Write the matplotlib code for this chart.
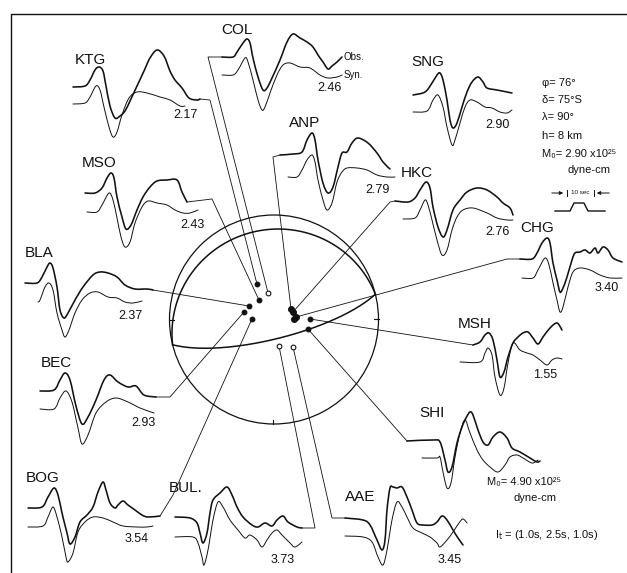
import numpy as np
import matplotlib
matplotlib.use("Agg")
import matplotlib.pyplot as plt
from matplotlib.patches import Circle, PathPatch
from matplotlib.path import Path

plt.rcParams['font.family'] = ['Liberation Sans', 'DejaVu Sans']

# ------------------------------------------------------------------ data
STATIONS = ["KTG", "COL", "SNG", "ANP", "HKC", "CHG", "MSH", "SHI",
            "AAE", "BUL", "BOG", "BEC", "BLA", "MSO"]
STATION_LABELS = ["KTG", "COL", "SNG", "ANP", "HKC", "CHG", "MSH", "SHI",
                  "AAE", "BUL.", "BOG", "BEC", "BLA", "MSO"]
AMPLITUDE_LABELS = ["2.17", "2.46", "2.90", "2.79", "2.76", "3.40", "1.55", "",
                    "3.45", "3.73", "3.54", "2.93", "2.37", "2.43"]
# first-motion polarity: 1 = compression (filled), 0 = dilatation (open)
POLARITY = [1, 0, 1, 1, 1, 1, 1, 1, 0, 0, 1, 1, 1, 1]
# station positions on the focal sphere (equal-area, unit radius)
SPHERE_E = [-0.163, -0.057, 0.191, 0.163, 0.182, 0.211, 0.344, 0.325,
            0.182, 0.048, -0.211, -0.287, -0.239, -0.144]
SPHERE_N = [0.340, 0.254, 0.005, 0.100, 0.072, 0.024, 0.005, -0.091,
            -0.263, -0.254, 0.005, 0.072, 0.129, 0.187]

# focal mechanism
STRIKE = 76
DIP = 75
RAKE = 90
DEPTH_KM = 8
M0 = 2.90
M0_SHI = 4.90
STF = [1.0, 2.5, 1.0]   # rise, top, fall (s)

# waveforms: (time sample, amplitude) pairs, observed and synthetic
KTG_OBS = [(0,0),(12,1),(17,7),(22,17),(26,20),(30,16),(33,1),(37,-19),(42,-31),(47,-29),(52,-24),(57,-14),(64,1),(71,16),(77,29),(84,37),(91,31),(97,16),(102,7),(109,-1),(116,-11),(124,-13),(127,-12)]
KTG_SYN = [(0,0),(12,1),(17,7),(23,18),(27,14),(31,-3),(36,-23),(40,-33),(44,-28),(49,-11),(56,6),(64,12),(74,11),(87,7),(97,4),(107,-2),(112,-2)]
COL_OBS = [(0,0),(11,0),(15,5),(21,14),(25,18),(28,14),(31,-1),(36,-20),(41,-33),(45,-31),(50,-21),(58,-3),(65,15),(71,23),(78,19),(85,15),(91,10),(96,2),(101,-5),(106,-12),(110,-9),(115,-5),(120,0)]
COL_SYN = [(0,0),(11,0),(16,5),(23,17),(26,13),(31,-5),(36,-25),(40,-35),(43,-32),(48,-18),(55,0),(61,10),(68,12),(78,8),(88,7),(98,0),(106,-3),(115,-2),(120,0)]
SNG_OBS = [(0,0),(12,3),(19,12),(24,20),(27,22),(30,15),(34,-5),(37,-25),(40,-33),(44,-28),(49,-12),(54,3),(59,13),(65,18),(70,13),(74,7),(84,5),(99,2)]
SNG_SYN = [(0,0),(14,1),(20,12),(25,17),(30,5),(34,-15),(39,-33),(42,-28),(47,-11),(52,5),(57,12),(64,10),(72,5),(79,4),(87,0),(94,-1),(99,2)]
ANP_OBS = [(0,0),(13,1),(22,3),(27,15),(32,22),(35,15),(38,-5),(43,-28),(48,-38),(53,-32),(58,-12),(62,2),(67,3),(72,12),(78,17),(88,12),(97,2),(103,-7),(110,-14)]
ANP_SYN = [(0,0),(9,0),(14,7),(19,17),(24,22),(27,15),(30,-3),(35,-23),(39,-33),(44,-26),(49,-5),(54,5),(59,9),(69,9),(79,7),(89,2),(99,0),(107,0)]
HKC_OBS = [(0,0),(13,-1),(20,3),(25,11),(31,19),(35,13),(38,-6),(43,-26),(48,-36),(52,-29),(58,-9),(65,1),(72,9),(82,13),(92,11),(102,4),(108,-2),(115,-7),(118,-14)]
HKC_SYN = [(0,0),(12,1),(17,9),(22,19),(25,14),(29,-1),(34,-21),(39,-36),(44,-31),(49,-11),(54,2),(60,9),(70,11),(84,6),(94,1),(104,-1),(110,-1)]
CHG_OBS = [(0,0),(12,0),(17,6),(22,16),(27,21),(30,16),(33,-4),(37,-21),(40,-33),(43,-29),(47,-18),(52,-1),(55,6),(60,7),(65,9),(70,6),(75,11),(78,6),(83,12),(88,9),(93,1),(102,-3)]
CHG_SYN = [(0,0),(11,0),(16,8),(23,20),(27,13),(31,-5),(35,-22),(38,-34),(41,-29),(46,-9),(51,6),(58,10),(68,8),(78,3),(88,0),(100,0)]
MSH_OBS = [(0,0),(7,3),(12,10),(16,12),(20,5),(24,-15),(27,-32),(31,-27),(35,-12),(40,2),(45,8),(50,12),(55,13),(60,7),(65,1),(70,8),(77,17),(84,22),(89,15)]
MSH_SYN = [(0,0),(20,0),(25,9),(28,14),(32,7),(35,-15),(40,-33),(44,-26),(48,-1),(53,19),(60,12),(67,9),(73,7),(80,2),(87,-3),(92,2),(97,4),(102,3)]
SHI_OBS = [(0,0),(26,1),(33,-1),(38,-19),(41,-31),(45,-26),(50,-2),(55,14),(59,23),(63,29),(66,26),(71,11),(76,-1),(81,-4),(86,4),(93,9),(100,3),(105,-7),(113,-11),(123,-17),(130,-21),(133,-20)]
SHI_SYN = [(0,0),(15,0),(18,1),(21,-14),(25,-30),(29,-25),(33,1),(38,25),(43,38),(48,25),(55,8),(61,-2),(68,-9),(76,-14),(83,-7),(88,1),(95,3),(101,0),(110,-5),(116,-2)]
AAE_OBS = [(0,0),(18,-2),(25,-7),(32,-22),(37,-32),(40,-22),(42,8),(45,30),(48,31),(52,30),(57,31),(62,21),(67,8),(72,-5),(78,-7),(87,-7),(92,-4),(97,2),(102,-2),(108,-12),(113,-20),(118,-27)]
AAE_SYN = [(0,0),(18,-1),(27,-6),(33,-21),(38,-29),(42,-14),(47,16),(52,34),(57,29),(62,19),(68,8),(77,3),(85,-1),(92,-7),(95,-11),(102,-4),(108,4),(114,13),(118,17),(122,13)]
BUL_OBS = [(0,0),(15,-1),(22,-6),(25,-16),(28,-26),(32,-16),(35,4),(38,17),(45,24),(52,30),(57,22),(62,10),(68,0),(77,-8),(83,-10),(90,-6),(97,-9),(102,-3),(108,1),(113,-5),(122,-10),(127,-11)]
BUL_SYN = [(0,0),(18,0),(23,-6),(27,-20),(29,-28),(33,-13),(38,17),(43,35),(48,30),(55,17),(63,7),(70,-1),(75,2),(82,-3),(87,-10),(92,-3),(97,4),(102,7),(107,2),(115,-6),(120,-10),(127,-5)]
BOG_OBS = [(0,0),(14,1),(20,11),(26,20),(30,13),(34,-5),(39,-25),(42,-36),(47,-29),(52,-14),(59,-7),(65,1),(70,16),(75,26),(78,18),(82,5),(87,0),(90,3),(95,7),(100,3),(107,-2),(114,-7),(120,-9),(132,-8)]
BOG_SYN = [(0,0),(15,1),(20,10),(25,20),(29,10),(34,-10),(38,-30),(40,-35),(45,-26),(50,-5),(57,5),(65,10),(75,9),(85,5),(95,1),(109,0),(119,0),(125,1)]
BEC_OBS = [(0,0),(14,1),(20,11),(25,18),(30,11),(36,-15),(42,-33),(48,-26),(56,-9),(64,11),(70,16),(78,9),(88,4),(96,5),(104,-4),(116,-6)]
BEC_SYN = [(0,0),(14,0),(20,11),(26,18),(32,7),(38,-19),(42,-35),(48,-26),(56,-4),(66,7),(76,11),(88,7),(100,1),(114,-4)]
BLA_OBS = [(0,0),(12,0),(17,6),(22,16),(25,20),(28,15),(32,-4),(35,-27),(39,-35),(43,-30),(50,-17),(58,-4),(68,8),(75,11),(83,10),(92,6),(100,-2),(110,-6),(122,-6),(128,-7)]
BLA_SYN = [(0,0),(2,2),(7,15),(11,19),(15,12),(19,-11),(24,-28),(27,-35),(31,-28),(37,-11),(44,2),(52,9),(60,10),(70,5),(79,4),(87,0),(95,-1),(104,1)]
MSO_OBS = [(0,0),(10,0),(17,5),(22,15),(26,20),(29,15),(32,-4),(37,-24),(41,-36),(46,-32),(52,-17),(58,-4),(65,6),(72,12),(82,13),(92,13),(97,1),(102,-9)]
MSO_SYN = [(0,0),(10,0),(15,7),(22,19),(26,12),(30,-6),(34,-25),(38,-35),(43,-30),(48,-11),(55,5),(61,11),(70,9),(80,7),(88,2),(96,-1),(103,-1),(111,2)]

WAVES = {
    "KTG": (KTG_OBS, KTG_SYN), "COL": (COL_OBS, COL_SYN), "SNG": (SNG_OBS, SNG_SYN),
    "ANP": (ANP_OBS, ANP_SYN), "HKC": (HKC_OBS, HKC_SYN), "CHG": (CHG_OBS, CHG_SYN),
    "MSH": (MSH_OBS, MSH_SYN), "SHI": (SHI_OBS, SHI_SYN), "AAE": (AAE_OBS, AAE_SYN),
    "BUL": (BUL_OBS, BUL_SYN), "BOG": (BOG_OBS, BOG_SYN), "BEC": (BEC_OBS, BEC_SYN),
    "BLA": (BLA_OBS, BLA_SYN), "MSO": (MSO_OBS, MSO_SYN),
}

# ------------------------------------------------------------------ layout (pixels)
W, H = 627, 573
SPHERE_C = (274, 319.5)
SPHERE_R = 104.5
LAYOUT = {
    # label, obs origin, syn origin, amplitude label, connector (anchor, elbows)
    "KTG": dict(label=(90, 60), obs=(73, 87), syn=(73, 104), amp=(185, 115), conn=("end", [(10, 1)])),
    "COL": dict(label=(237, 30), obs=(222, 57), syn=(222, 75), amp=(330, 88), conn=("start", [(-14, 0)])),
    "SNG": dict(label=(428, 62), obs=(413, 95), syn=(413, 112), amp=(498, 125), conn=None),
    "ANP": dict(label=(305, 123), obs=(280, 155), syn=(288, 177), amp=(377, 190), conn=("start", [(-7, 2)])),
    "HKC": dict(label=(417, 173), obs=(395, 201), syn=(403, 219), amp=(497, 232), conn=("start", [(-5, 1)])),
    "CHG": dict(label=(537, 228), obs=(520, 259), syn=(522, 278), amp=(607, 288), conn=("start", [(-13, 0)])),
    "MSH": dict(label=(475, 324), obs=(473, 345), syn=(460, 362), amp=(545, 375), conn=("start", [])),
    "SHI": dict(label=(432, 413), obs=(407, 441), syn=(422, 458), amp=None, conn=("start", [])),
    "AAE": dict(label=(360, 497), obs=(345, 518), syn=(345, 536), amp=(450, 560), conn=("start", [(-13, 0)])),
    "BUL": dict(label=(186, 488), obs=(175, 517), syn=(175, 537), amp=(283, 560), conn=("end", [(13, 0)])),
    "BOG": dict(label=(43, 478), obs=(28, 508), syn=(28, 527), amp=(137, 539), conn=("end", [(13, -21)])),
    "BEC": dict(label=(56, 363), obs=(40, 391), syn=(40, 409), amp=(143, 423), conn=("end", [(14, 0)])),
    "BLA": dict(label=(39, 253), obs=(25, 283), syn=(38, 302), amp=(130, 316), conn=("end", [])),
    "MSO": dict(label=(99, 163), obs=(85, 193), syn=(87, 212), amp=(192, 225), conn=("end", [(25, -3)])),
}
INK = "#111111"

fig = plt.figure(figsize=(W / 100, H / 100), dpi=100)
ax = fig.add_axes([0, 0, 1, 1])
ax.set_xlim(0, W)
ax.set_ylim(H, 0)
ax.axis("off")

# frame
ax.plot([11, 11, W], [H, 14, 14], color=INK, lw=1.0, solid_capstyle="butt")


def sphere_to_px(e, n):
    return SPHERE_C[0] + SPHERE_R * np.asarray(e), SPHERE_C[1] - SPHERE_R * np.asarray(n)


def nodal_plane(strike, dip, n=241):
    s, d = np.radians(strike), np.radians(dip)
    t = np.linspace(0, np.pi, n)
    sv = np.array([np.cos(s), np.sin(s), 0.0])
    dd = s + np.pi / 2
    dv = np.array([np.cos(dd) * np.cos(d), np.sin(dd) * np.cos(d), np.sin(d)])
    v = np.outer(np.cos(t), sv) + np.outer(np.sin(t), dv)
    N, E, D = v.T
    plunge = np.arcsin(np.clip(D, -1, 1))
    trend = np.arctan2(E, N)
    r = np.sqrt(2) * np.sin((np.pi / 2 - plunge) / 2)
    return r * np.sin(trend), r * np.cos(trend)


# focal sphere
ax.add_patch(Circle(SPHERE_C, SPHERE_R, fill=False, ec=INK, lw=0.9))
for strike, dip in [(STRIKE, DIP), (STRIKE + 180, 90 - DIP)]:
    e, n = nodal_plane(strike, dip)
    x, y = sphere_to_px(e, n)
    ax.plot(x, y, color=INK, lw=1.1)
# small ticks W, E, S
cx, cy = SPHERE_C
ax.plot([cx - SPHERE_R, cx - SPHERE_R + 4], [cy, cy], color=INK, lw=0.8)
ax.plot([cx + SPHERE_R - 5, cx + SPHERE_R], [cy - 1, cy - 1], color=INK, lw=0.8)
ax.plot([cx - 1, cx - 1], [cy + SPHERE_R - 4, cy + SPHERE_R], color=INK, lw=0.8)


def draw_trace(origin, pts, lw):
    """Smooth curve through the keypoints (Catmull-Rom drawn as Bezier path)."""
    P = np.array([(origin[0] + t, origin[1] - a) for t, a in pts], float)
    ext = np.vstack([P[0], P, P[-1]])
    verts = [P[0]]
    codes = [Path.MOVETO]
    for i in range(len(P) - 1):
        p0, p1, p2, p3 = ext[i], ext[i + 1], ext[i + 2], ext[i + 3]
        c1 = p1 + (p2 - p0) / 6.0
        c2 = p2 - (p3 - p1) / 6.0
        verts += [c1, c2, p2]
        codes += [Path.CURVE4] * 3
    ax.add_patch(PathPatch(Path(verts, codes), fill=False, ec=INK, lw=lw,
                           joinstyle="round", capstyle="round"))


for i, st in enumerate(STATIONS):
    L = LAYOUT[st]
    obs, syn = WAVES[st]
    draw_trace(L["obs"], obs, 1.15)
    draw_trace(L["syn"], syn, 0.7)
    ax.text(*L["label"], STATION_LABELS[i], ha="center", va="center",
            fontsize=11, color=INK)
    if L["amp"] is not None and AMPLITUDE_LABELS[i]:
        ax.text(*L["amp"], AMPLITUDE_LABELS[i], ha="center", va="center",
                fontsize=9, color=INK)
    dx, dy = sphere_to_px(SPHERE_E[i], SPHERE_N[i])
    if L["conn"] is not None:
        which, elbows = L["conn"]
        if which == "end":
            ax0 = L["obs"][0] + obs[-1][0]
            ay0 = L["obs"][1] - obs[-1][1]
        else:
            ax0, ay0 = L["obs"]
        xs, ys = [ax0], [ay0]
        for ex, ey in elbows:
            xs.append(ax0 + ex)
            ys.append(ay0 + ey)
        xs.append(float(dx))
        ys.append(float(dy))
        ax.plot(xs, ys, color=INK, lw=0.6)
    big = st in ("ANP", "HKC", "CHG", "SNG")
    ax.plot(dx, dy, "o", ms=4.2 if big else 3.4,
            mfc=INK if POLARITY[i] else "white", mec=INK, mew=0.8, zorder=5)

# Obs./Syn. legend labels at COL
col_o, col_s = LAYOUT["COL"]["obs"], LAYOUT["COL"]["syn"]
ax.text(col_o[0] + COL_OBS[-1][0] + 2, col_o[1] - COL_OBS[-1][1], "Obs.",
        ha="left", va="center", fontsize=7, color=INK)
ax.text(col_s[0] + COL_SYN[-1][0] + 2, col_s[1] - COL_SYN[-1][1], "Syn.",
        ha="left", va="center", fontsize=7, color=INK)

# parameter block
px = 542
ax.text(px, 83, f"\u03c6= {STRIKE}\u00b0", fontsize=8, va="center", color=INK)
ax.text(px, 100, f"\u03b4= {DIP}\u00b0S", fontsize=8, va="center", color=INK)
ax.text(px, 117, f"\u03bb= {RAKE}\u00b0", fontsize=8, va="center", color=INK)
ax.text(px, 136, f"h= {DEPTH_KM} km", fontsize=8, va="center", color=INK)
ax.text(px, 154, f"M\u2080= {M0:.2f} x10\u00b2\u2075", fontsize=8, va="center", color=INK)
ax.text(567, 170, "dyne-cm", fontsize=8, va="center", color=INK)

# 10 sec scale bar
ybar = 193
ax.annotate("", xy=(566, ybar), xytext=(549, ybar),
            arrowprops=dict(arrowstyle="-|>", lw=0.7, color=INK, mutation_scale=5))
ax.annotate("", xy=(594, ybar), xytext=(612, ybar),
            arrowprops=dict(arrowstyle="-|>", lw=0.7, color=INK, mutation_scale=5))
ax.plot([567, 567], [ybar - 3, ybar + 3], color=INK, lw=0.7)
ax.plot([594, 594], [ybar - 3, ybar + 3], color=INK, lw=0.7)
ax.text(580.5, ybar, "10 sec", fontsize=4.5, ha="center", va="center", color=INK)

# source time function (trapezoid)
px_per_s = 4.0
stf_t = np.cumsum([0, STF[0], STF[1], STF[2]])
stf_a = [0, 1, 1, 0]
x0, y0, amp = 570, 211, 8
ax.plot([555] + list(x0 + px_per_s * stf_t) + [605],
        [y0] + list(y0 - amp * np.array(stf_a)) + [y0], color=INK, lw=1.0)

# SHI moment and source duration
ax.text(487, 482, f"M\u2080= {M0_SHI:.2f} x10\u00b2\u2075", fontsize=8, va="center", color=INK)
ax.text(513, 498, "dyne-cm", fontsize=8, va="center", color=INK)
ax.text(495, 535, r"I$_{\rm t}$ = " + f"({STF[0]:.1f}s, {STF[1]:.1f}s, {STF[2]:.1f}s)",
        fontsize=8, va="center", color=INK)

fig.savefig("out.png", dpi=100, facecolor="white")
